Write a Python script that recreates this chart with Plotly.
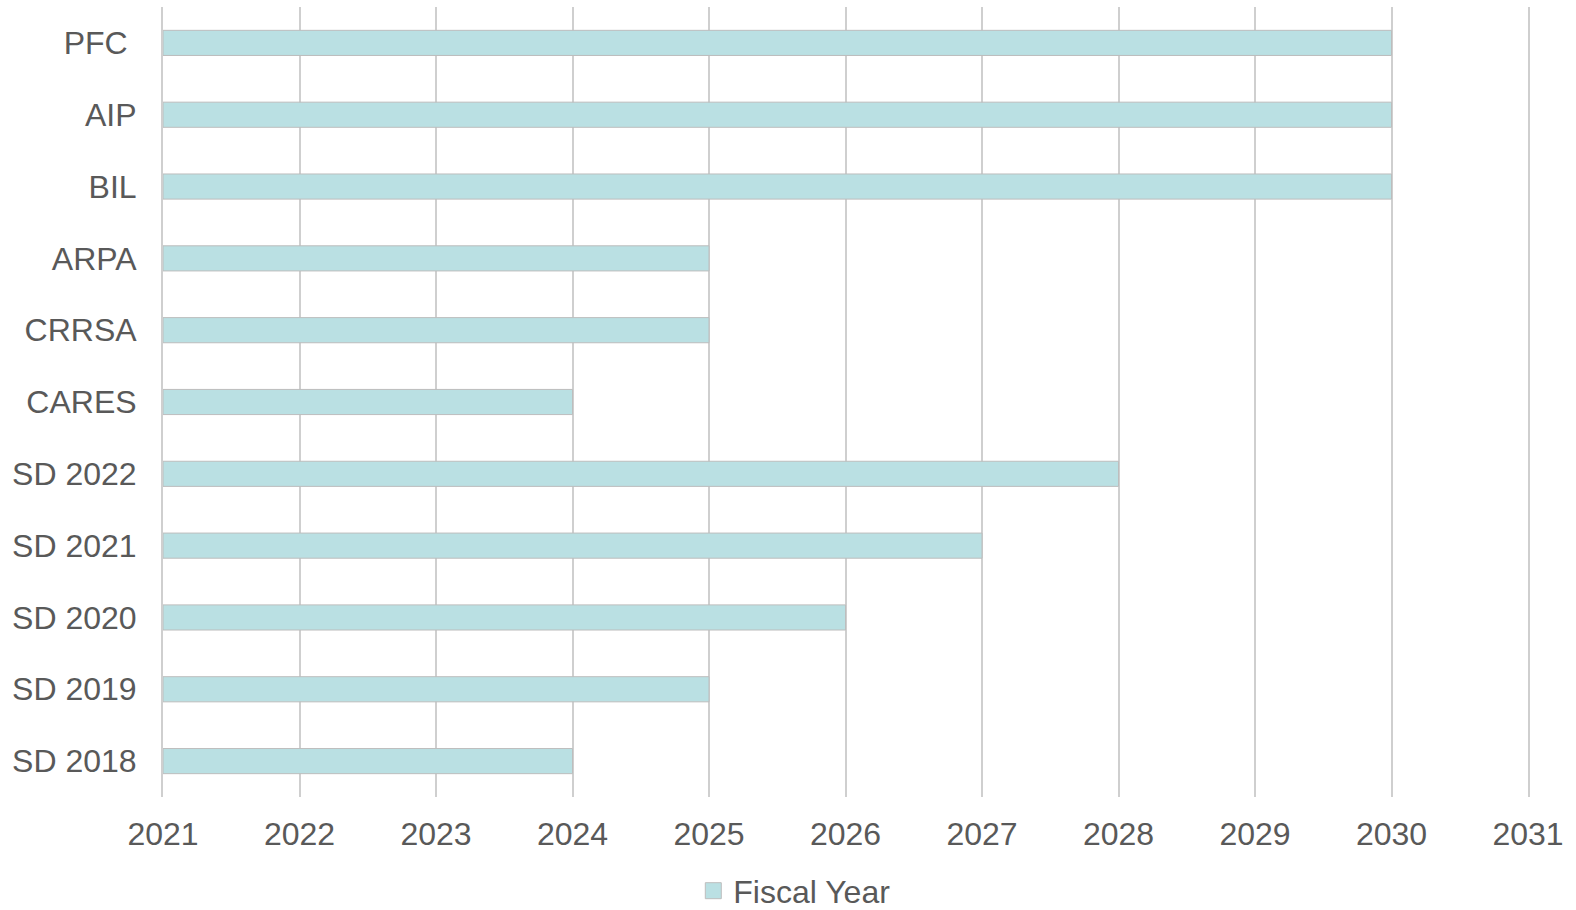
import plotly.graph_objects as go

categories = ["PFC\u00a0", "AIP", "BIL", "ARPA", "CRRSA", "CARES",
              "SD 2022", "SD 2021", "SD 2020", "SD 2019", "SD 2018"]
start_year = 2021
end_years = [2030, 2030, 2030, 2025, 2025, 2024, 2028, 2027, 2026, 2025, 2024]
x_ticks = list(range(2021, 2032))
series_name = "Fiscal Year"

durations = [e - start_year for e in end_years]

bar_color = "#BAE0E3"
edge_color = "#BDBDBD"

fig = go.Figure()
fig.add_trace(go.Bar(
    y=categories,
    x=durations,
    base=start_year,
    orientation="h",
    name=series_name,
    width=0.35,
    marker=dict(color=bar_color, line=dict(color=edge_color, width=1)),
    showlegend=False,
))
# legend entry with a larger square swatch
fig.add_trace(go.Scatter(
    x=[None], y=[None], mode="markers", name=series_name,
    marker=dict(symbol="square", size=16, color=bar_color,
                line=dict(color=edge_color, width=1)),
    showlegend=True,
))

font_family = "Liberation Sans, Arial, sans-serif"
txt = "#595959"
fs = 32

fig.update_layout(
    width=1576, height=910,
    margin=dict(l=163, r=48, t=7, b=113),
    plot_bgcolor="white", paper_bgcolor="white",
    font=dict(family=font_family, size=fs, color=txt),
    xaxis=dict(
        range=[2021, 2031], tickvals=x_ticks, ticktext=[str(v) for v in x_ticks],
        showgrid=True, gridcolor="#CFCFCF", gridwidth=2,
        zeroline=False, showline=False, ticks="",
        ticklabelstandoff=15,
        tickfont=dict(size=fs, color=txt),
    ),
    yaxis=dict(
        categoryorder="array", categoryarray=categories[::-1],
        showgrid=False, zeroline=False,
        showline=True, linecolor="#CFCFCF", linewidth=2, mirror=True,
        ticks="",
        ticklabelstandoff=18,
        tickfont=dict(size=fs, color=txt),
    ),
    legend=dict(
        orientation="h", x=0.504, xanchor="center", xref="container",
        y=0.021, yanchor="middle", yref="container",
        font=dict(size=fs, color=txt),
        itemwidth=30,
    ),
)

fig.write_html("out.html")
